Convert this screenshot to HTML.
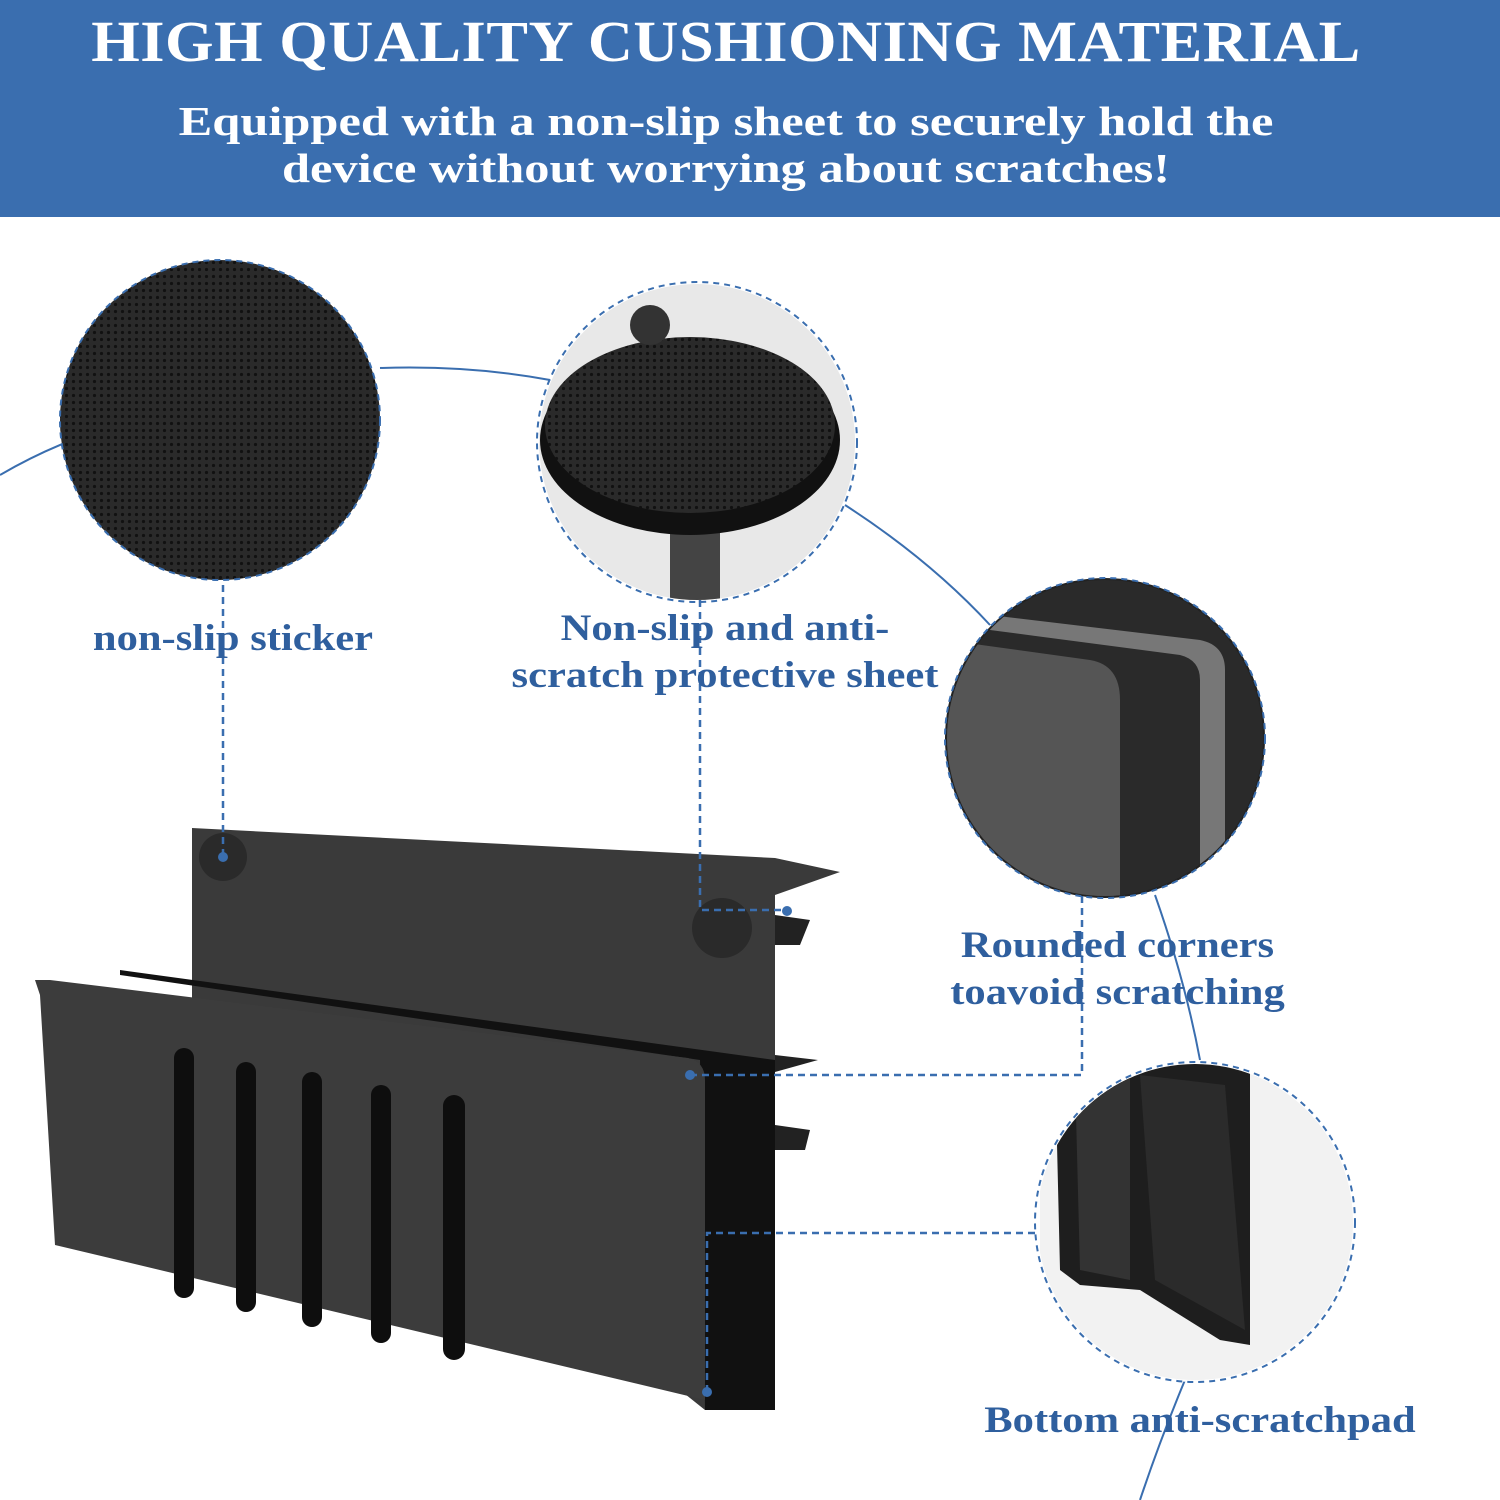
<!DOCTYPE html>
<html><head><meta charset="utf-8"><style>
body{margin:0;width:1500px;height:1500px;background:#fff;overflow:hidden;position:relative;font-family:"Liberation Serif",serif}
.hdr{position:absolute;left:0;top:0;width:1500px;height:217px;background:#3a6eaf;color:#fff;text-align:center;font-weight:bold}
.t{position:absolute;left:0;width:1500px;font-size:58px;top:8px;letter-spacing:0.5px;transform:translateX(-24px) scaleX(1.075)}
.s{position:absolute;left:0;width:1500px;font-size:41px;line-height:47px;top:98px;transform:translateX(-24px) scaleX(1.23)}
.l{position:absolute;color:#2f5f9e;font-weight:bold;font-size:37px;line-height:47px;text-align:center;white-space:nowrap;transform:scaleX(1.15)}
svg{position:absolute;left:0;top:0}
</style></head><body>
<div class="hdr"><div class="t">HIGH QUALITY CUSHIONING MATERIAL</div>
<div class="s">Equipped with a non-slip sheet to securely hold the<br>device without worrying about scratches!</div></div>
<svg width="1500" height="1500">
<defs>
<pattern id="m" width="7" height="7" patternUnits="userSpaceOnUse"><rect width="7" height="7" fill="#2a2a2a"/><circle cx="3.5" cy="3.5" r="1.6" fill="#111"/></pattern>
</defs>
<path d="M0,475 Q60,440 120,425 M380,368 Q470,365 550,380 M845,505 Q930,560 990,625 M1155,895 Q1185,980 1200,1060 M1185,1380 Q1160,1440 1140,1500" fill="none" stroke="#3a6eaf" stroke-width="2"/>
<circle cx="220" cy="420" r="160" fill="url(#m)" stroke="#3a6eaf" stroke-width="2" stroke-dasharray="6,5"/>
<circle cx="697" cy="442" r="160" fill="#fff" stroke="#3a6eaf" stroke-width="2" stroke-dasharray="6,5"/>
<clipPath id="c2"><circle cx="697" cy="442" r="158"/></clipPath>
<g clip-path="url(#c2)">
<rect x="530" y="280" width="340" height="330" fill="#e8e8e8"/>
<rect x="670" y="500" width="50" height="110" fill="#444"/>
<ellipse cx="690" cy="440" rx="150" ry="95" fill="#111"/>
<ellipse cx="690" cy="425" rx="145" ry="88" fill="url(#m)"/>
<circle cx="650" cy="325" r="20" fill="#333"/>
</g>
<circle cx="1105" cy="738" r="160" fill="#222" stroke="#3a6eaf" stroke-width="2" stroke-dasharray="6,5"/>
<clipPath id="c3"><circle cx="1105" cy="738" r="158"/></clipPath>
<g clip-path="url(#c3)">
<rect x="940" y="570" width="340" height="340" fill="#2a2a2a"/>
<path d="M945,640 L1090,660 Q1120,665 1120,700 L1120,910 L945,910 Z" fill="#555"/>
<path d="M990,615 L1200,640 Q1225,645 1225,670 L1225,900 L1200,900 L1200,680 Q1200,660 1180,655 L990,630Z" fill="#777"/>
</g>
<circle cx="1195" cy="1222" r="160" fill="#fff" stroke="#3a6eaf" stroke-width="2" stroke-dasharray="6,5"/>
<clipPath id="c4"><circle cx="1195" cy="1222" r="158"/></clipPath>
<g clip-path="url(#c4)">
<rect x="1040" y="1060" width="320" height="330" fill="#f2f2f2"/>
<path d="M1055,1060 L1250,1060 L1250,1345 L1220,1340 L1140,1290 L1080,1285 L1060,1270Z" fill="#1e1e1e"/>
<path d="M1075,1075 L1130,1075 L1130,1280 L1080,1270Z" fill="#333"/>
<path d="M1140,1075 L1225,1085 L1245,1330 L1155,1280Z" fill="#2b2b2b"/>
</g>
<path d="M192,828 L775,858 L840,872 L775,895 L775,1410 L705,1410 L192,1000Z" fill="#3a3a3a"/>
<path d="M775,915 L810,920 L800,945 L775,945Z M775,1055 L818,1060 L775,1072Z M775,1125 L810,1130 L805,1150 L775,1150Z" fill="#222"/>
<path d="M120,975 L700,1060 L705,1410 L775,1410 L775,1060 L120,970Z" fill="#111"/>
<circle cx="223" cy="857" r="24" fill="#2a2a2a"/>
<circle cx="722" cy="928" r="30" fill="#2a2a2a"/>
<path d="M35,980 L40,995 L55,1245 L705,1400 L705,1080 Q705,1062 688,1058 L50,980Z" fill="#3c3c3c"/>
<g fill="#0e0e0e">
<rect x="174" y="1048" width="20" height="250" rx="10"/>
<rect x="236" y="1062" width="20" height="250" rx="10"/>
<rect x="302" y="1072" width="20" height="255" rx="10"/>
<rect x="371" y="1085" width="20" height="258" rx="10"/>
<rect x="443" y="1095" width="22" height="265" rx="11"/>
</g>
<g stroke="#3a6eaf" stroke-width="2.5" stroke-dasharray="7,5" fill="none">
<path d="M223,585 L223,857"/>
<path d="M700,600 L700,910 L790,910"/>
<path d="M690,1075 L1082,1075 L1082,895"/>
<path d="M707,1392 L707,1233 L1035,1233"/>
</g>
<g fill="#3a6eaf"><circle cx="223" cy="857" r="5"/><circle cx="787" cy="911" r="5"/><circle cx="690" cy="1075" r="5"/><circle cx="707" cy="1392" r="5"/></g>
</svg>
<div class="l" style="left:83px;top:615px;width:300px">non-slip sticker</div>
<div class="l" style="left:500px;top:605px;width:450px">Non-slip and anti-<br>scratch protective sheet</div>
<div class="l" style="left:940px;top:922px;width:355px">Rounded corners<br>toavoid scratching</div>
<div class="l" style="left:980px;top:1397px;width:440px">Bottom anti-scratchpad</div>
</body></html>
